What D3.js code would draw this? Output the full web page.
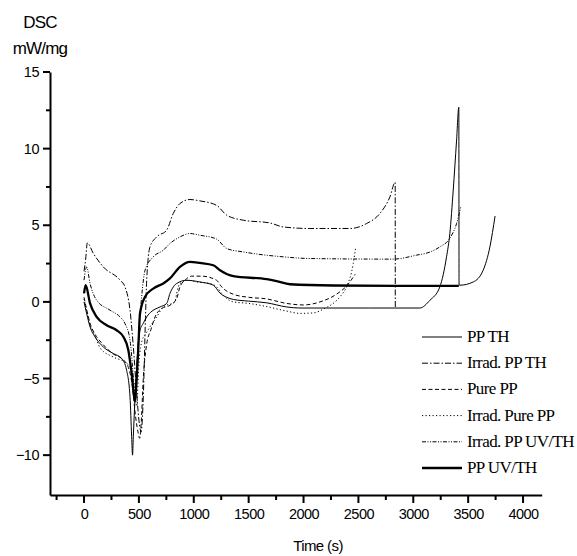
<!DOCTYPE html>
<html>
<head>
<meta charset="utf-8">
<script src="https://cdn.jsdelivr.net/npm/d3@7"></script>
<style>
  body { margin: 0; background: #fff; }
  svg { display: block; }
</style>
</head>
<body>
<div class="vis-dsc"></div>
<script>
// values (time in s, heat flow in mW/mg)
const ppTH_t = [0, 24, 55, 100, 176, 267, 343, 388, 419, 434, 442, 449, 480, 510, 540, 571, 620, 692, 753, 783, 844, 935, 1056, 1178, 1239, 1300, 1360, 1500, 1664, 1846, 1967, 2200, 2600, 3060, 3151, 3242, 3303, 3333, 3364, 3394, 3415, 3417, 3424, 3546, 3637, 3698, 3745]
const ppTH_v = [0, -0.76, -1.63, -2.28, -2.94, -3.37, -3.69, -4.46, -6.2, -8.8, -10, -8.8, -4.2, -1.85, -1.4, -0.98, -0.6, -0.33, -0.1, 0.55, 1.2, 1.41, 1.3, 1.09, 0.57, 0.3, 0.16, 0.05, -0.06, -0.33, -0.4, -0.4, -0.4, -0.4, 0.1, 0.98, 2.94, 4.46, 7.3, 10.5, 12.7, 1.1, 1.09, 1.3, 2.07, 3.59, 5.6]

const irrPPTH_t = [0, 15, 30, 85, 176, 328, 373, 419, 450, 480, 505, 520, 540, 560, 571, 601, 662, 753, 813, 874, 965, 1056, 1208, 1300, 1451, 1694, 1815, 2058, 2423, 2574, 2696, 2787, 2835, 2836]
const irrPPTH_v = [2.0, 2.8, 3.85, 3.16, 2.28, 1.42, 0.98, -0.54, -3, -6, -8, -8.5, -6.2, -1, 1.42, 3.59, 4.24, 4.68, 5.77, 6.42, 6.68, 6.59, 6.3, 5.66, 5.33, 5.15, 4.89, 4.79, 4.79, 5.11, 5.77, 6.85, 7.8, -0.4]

const purePP_t = [0, 24, 55, 100, 176, 267, 343, 400, 440, 470, 495, 507, 520, 540, 570, 610, 647, 707, 783, 844, 874, 920, 980, 1072, 1208, 1254, 1360, 1500, 1660, 1846, 2000, 2150, 2300, 2400, 2470]
const purePP_v = [0.3, -0.5, -1.4, -2.1, -2.8, -3.4, -3.7, -4.2, -5.5, -7.5, -8.6, -8.9, -8.0, -5.0, -2.8, -1.8, -0.98, -0.43, -0.22, 0.22, 0.98, 1.41, 1.68, 1.68, 1.41, 0.98, 0.5, 0.3, 0.2, -0.1, -0.2, 0.0, 0.5, 1.1, 1.8]

const irrPurePP_t = [0, 24, 55, 100, 146, 267, 388, 434, 460, 480, 500, 530, 570, 601, 662, 722, 829, 844, 874, 950, 1026, 1148, 1208, 1260, 1360, 1500, 1660, 1846, 1967, 2088, 2200, 2270, 2340, 2392, 2453, 2474]
const irrPurePP_v = [0.2, -0.6, -1.5, -2.2, -3.0, -3.6, -4.0, -4.46, -5.5, -6.8, -4.0, -2.5, -2.0, -1.63, -0.98, -0.33, 0, 0.55, 1.2, 1.41, 1.3, 1.2, 0.98, 0.5, 0.0, -0.1, -0.3, -0.6, -0.75, -0.72, -0.4, -0.1, 0.4, 0.98, 2.5, 3.5]

const irrPPUVTH_t = [0, 24, 55, 115, 237, 328, 373, 419, 440, 460, 475, 495, 525, 556, 631, 722, 783, 874, 965, 1056, 1208, 1300, 1451, 1815, 2058, 2817, 3030, 3151, 3242, 3333, 3394, 3433]
const irrPPUVTH_v = [1.42, 2.28, 1.2, 0.11, -0.54, -0.98, -1.41, -2.5, -4.0, -5.8, -5.5, -2.5, 0.33, 2.07, 2.94, 3.37, 3.81, 4.24, 4.46, 4.35, 4.1, 3.48, 3.26, 2.94, 2.83, 2.79, 3.05, 3.25, 3.59, 4.15, 5.1, 6.2]

const ppUVTH_t = [0, 15, 55, 115, 206, 297, 358, 404, 434, 464, 480, 495, 510, 556, 631, 722, 783, 874, 965, 1056, 1178, 1239, 1360, 1664, 1755, 1876, 2271, 3333, 3415]
const ppUVTH_v = [0.55, 1.09, -0.1, -0.98, -1.52, -1.85, -2.28, -3.15, -4.67, -6.5, -5.0, -2.94, -0.76, 0.33, 0.87, 1.2, 1.53, 2.28, 2.61, 2.54, 2.39, 2.07, 1.68, 1.48, 1.35, 1.15, 1.07, 1.04, 1.05]

const seriesNames = ['PP TH', 'Irrad. PP TH', 'Pure PP', 'Irrad. Pure PP', 'Irrad. PP UV/TH', 'PP UV/TH']
const xTicks = [0, 500, 1000, 1500, 2000, 2500, 3000, 3500, 4000]
const xMinor = [-250, 250, 750, 1250, 1750, 2250, 2750, 3250, 3750]
const yTicks = [-10, -5, 0, 5, 10, 15]
const yMinor = [-7.5, -2.5, 2.5, 7.5, 12.5]

const series = [
    { name: seriesNames[0], t: ppTH_t, v: ppTH_v, dash: null, w: 1 },
    { name: seriesNames[1], t: irrPPTH_t, v: irrPPTH_v, dash: '6,2,1.5,2', w: 1 },
    { name: seriesNames[2], t: purePP_t, v: purePP_v, dash: '4,2.5', w: 1 },
    { name: seriesNames[3], t: irrPurePP_t, v: irrPurePP_v, dash: '1.2,2.3', w: 1 },
    { name: seriesNames[4], t: irrPPUVTH_t, v: irrPPUVTH_v, dash: '4,1.5,1,1.5,1,1.5', w: 1 },
    { name: seriesNames[5], t: ppUVTH_t, v: ppUVTH_v, dash: null, w: 2.3 }
]

const width = 577
const height = 556

const x = d3.scaleLinear().domain([-310, 4170]).range([50, 541.7])
const y = d3.scaleLinear().domain([-12.6, 15]).range([495, 72])

const svg = d3.select('.vis-dsc')
    .append('svg')
    .attr('width', width)
    .attr('height', height)

const line = d3.line()
    .x(d => x(d[0]))
    .y(d => y(d[1]))
    .curve(d3.curveMonotoneX)

svg.append('g')
    .selectAll('path')
    .data(series)
    .enter()
    .append('path')
    .attr('d', s => line(s.t.map((t, i) => [t, s.v[i]])))
    .attr('fill', 'none')
    .attr('stroke', '#000')
    .attr('stroke-width', s => s.w)
    .attr('stroke-dasharray', s => s.dash)
    .attr('stroke-linejoin', 'round')

// axes
const x0 = y.range()[0]
const y0 = x.range()[0]

svg.append('g')
    .attr('transform', `translate(0,${x0})`)
    .call(d3.axisBottom(x).tickValues(xTicks).tickSize(8).tickSizeOuter(0).tickPadding(6).tickFormat(d3.format('d')))

svg.append('g')
    .attr('transform', `translate(${y0},0)`)
    .call(d3.axisLeft(y).tickValues(yTicks).tickSize(7).tickSizeOuter(0).tickPadding(4))

svg.selectAll('.tick line').remove()

// tick marks as small filled rects
const tickG = svg.append('g').attr('fill', '#000')
tickG.selectAll('.xt')
    .data(xTicks.map(d => [d, 8]).concat(xMinor.map(d => [d, 5])))
    .enter()
    .append('rect')
    .attr('class', 'xt')
    .attr('x', d => x(d[0]) - 1)
    .attr('y', x0)
    .attr('width', 2)
    .attr('height', d => d[1])

tickG.selectAll('.yt')
    .data(yTicks.map(d => [d, 7]).concat(yMinor.map(d => [d, 4])))
    .enter()
    .append('rect')
    .attr('class', 'yt')
    .attr('x', d => y0 - d[1])
    .attr('y', d => y(d[0]) - 1)
    .attr('width', d => d[1])
    .attr('height', 2)

svg.selectAll('.domain').attr('stroke-width', 2).attr('stroke', '#000')
svg.selectAll('.tick text')
    .attr('font-family', 'Liberation Sans, Arial, sans-serif')
    .attr('font-size', 14.5)
    .attr('letter-spacing', -0.5)
    .attr('fill', '#000')

// axis titles
const titleFont = 'Liberation Sans, Arial, sans-serif'
svg.append('text').attr('x', 40).attr('y', 28).attr('text-anchor', 'middle')
    .attr('font-family', titleFont).attr('font-size', 17).attr('letter-spacing', -0.8).text('DSC')
svg.append('text').attr('x', 40).attr('y', 54).attr('text-anchor', 'middle')
    .attr('font-family', titleFont).attr('font-size', 17).attr('letter-spacing', -0.8).text('mW/mg')
svg.append('text').attr('x', 318).attr('y', 551).attr('text-anchor', 'middle')
    .attr('font-family', titleFont).attr('font-size', 15).attr('letter-spacing', -0.6).text('Time (s)')

// legend
const legend = svg.append('g')
    .selectAll('g')
    .data(series)
    .enter()
    .append('g')
    .attr('transform', (d, i) => `translate(422,${337 + i * 26.2})`)

legend.append('line')
    .attr('x1', 0).attr('x2', 40)
    .attr('stroke', '#000')
    .attr('stroke-width', d => d.w)
    .attr('stroke-dasharray', d => d.dash)

legend.append('text')
    .attr('x', 45)
    .attr('y', 5)
    .attr('font-family', 'Liberation Serif, Times New Roman, serif')
    .attr('font-size', 17)
    .attr('letter-spacing', -0.6)
    .text(d => d.name)
</script>
</body>
</html>
